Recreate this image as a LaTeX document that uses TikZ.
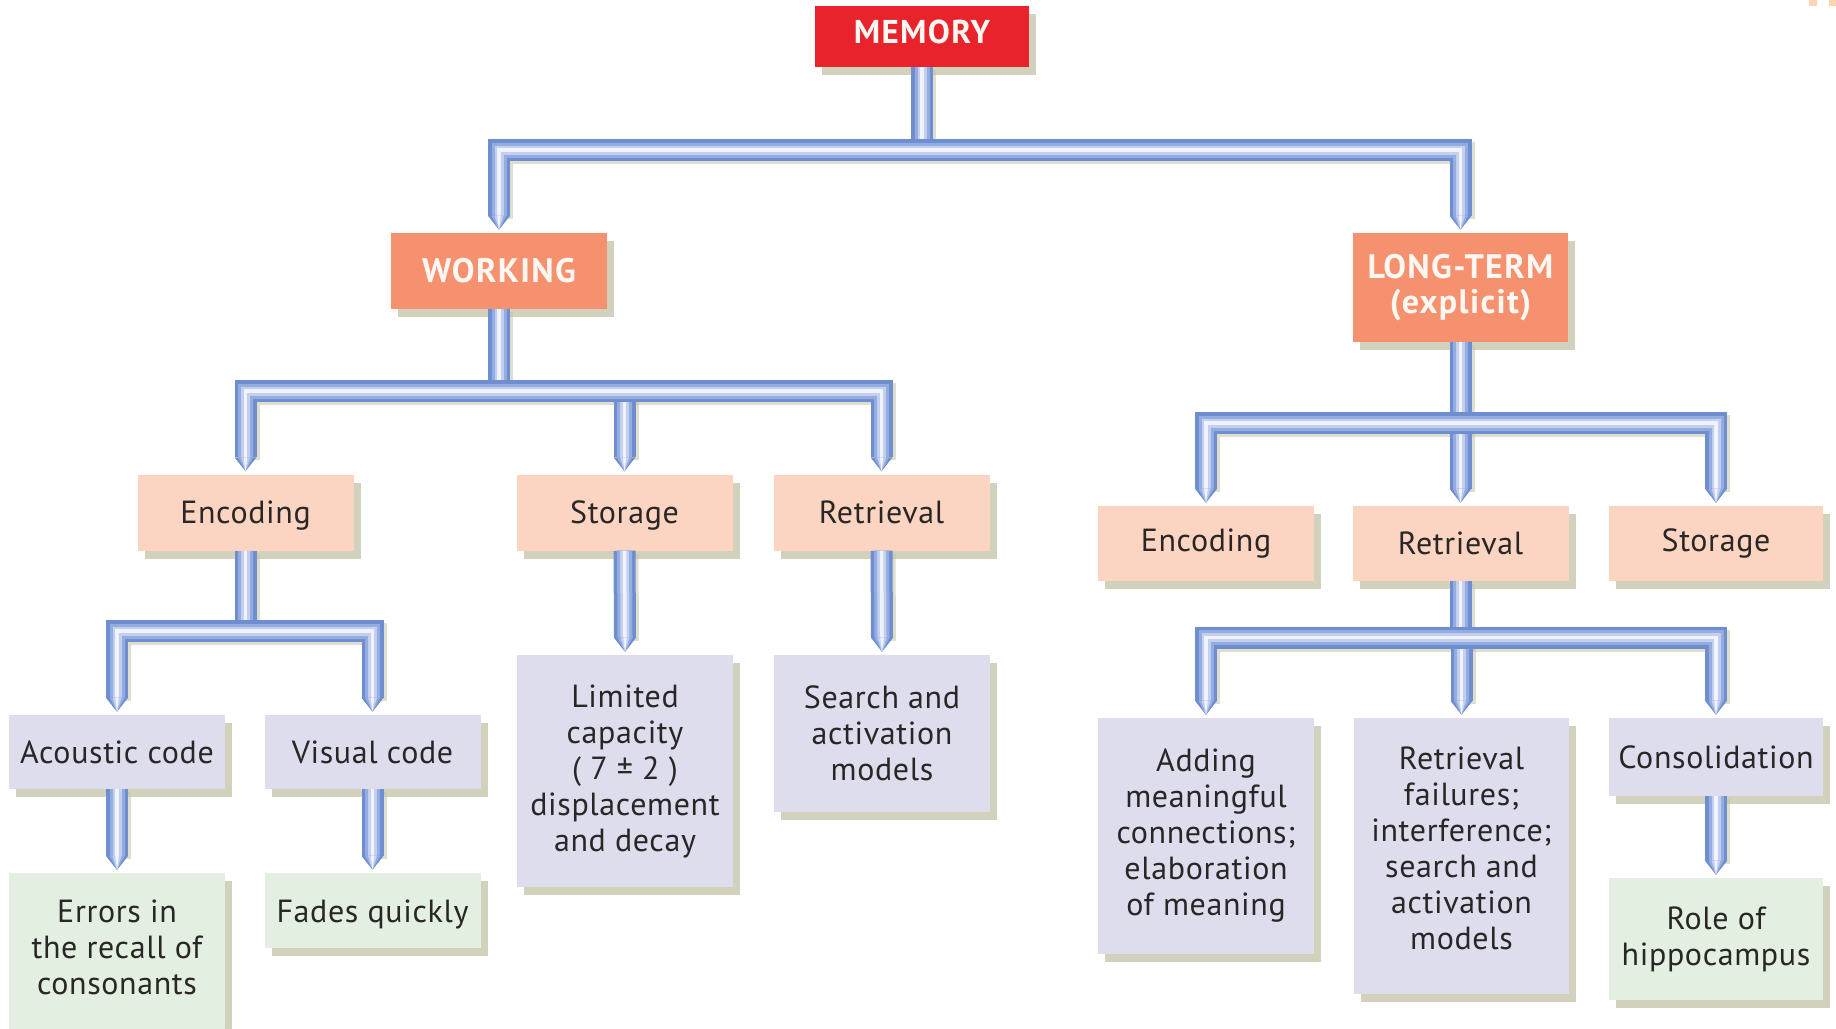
\documentclass[tikz,border=0pt]{standalone}
\usepackage{fontspec}
\setmainfont{PT Sans}
\usetikzlibrary{calc,shadows}
\definecolor{memred}{HTML}{E8232B}
\definecolor{salmon}{HTML}{F5916F}
\definecolor{peach}{HTML}{FBD5C1}
\definecolor{lav}{HTML}{DDDDEE}
\definecolor{mint}{HTML}{E2EFE1}
\definecolor{txt}{HTML}{2A2626}
\definecolor{headtxt}{HTML}{FFF8F2}
\definecolor{shad}{HTML}{C4C4A6}
\definecolor{pipeA}{HTML}{6F8ECF}
\definecolor{pipeB}{HTML}{95ACE0}
\definecolor{pipeC}{HTML}{C2CFEE}
\definecolor{pipeD}{HTML}{F0F3FB}
\definecolor{corner}{HTML}{F8D7B0}
\newcommand\drawpipes[1]{%
  % vertical stubs first
  \draw[#1] (mem.south) -- (mem.south |- yb1);
  \draw[#1] (work.south) -- (work.south |- yb2);
  \draw[#1] (t-wsto) -- (t-wsto |- yb2);
  \draw[#1] (wenc.south) -- (wenc.south |- yb3);
  \draw[#1] (wsto.south) -- (t-lim);
  \draw[#1] (wret.south) -- (t-sea);
  \draw[#1] (aco.south) -- (t-err);
  \draw[#1] (vis.south) -- (t-fad);
  \draw[#1] (lt.south) -- (lt.south |- yb4);
  \draw[#1] (t-lret) -- (t-lret |- yb4);
  \draw[#1] (lret.south) -- (lret.south |- yb5);
  \draw[#1] (t-fail) -- (t-fail |- yb5);
  \draw[#1] (con.south) -- (t-role);
  % bars
  \draw[#1] (t-work) |- (mem.south |- yb1) -| (t-lt);
  \draw[#1] (t-wenc) |- (work.south |- yb2) -| (t-wret);
  \draw[#1] (t-aco) |- (wenc.south |- yb3) -| (t-vis);
  \draw[#1] (t-lenc) |- (lt.south |- yb4) -| (t-lsto);
  \draw[#1] (t-add) |- (lret.south |- yb5) -| (t-con);
}
\newcommand\ptip[1]{%
  \fill[pipeA] ($(#1.north)+(-11,-17)$) -- ($(#1.north)+(11,-17)$) -- ($(#1.north)+(0,-3)$) -- cycle;
  \fill[pipeB] ($(#1.north)+(-7.5,-17)$) -- ($(#1.north)+(7.5,-17)$) -- ($(#1.north)+(0,-3)$) -- cycle;
  \fill[pipeC] ($(#1.north)+(-4.5,-17)$) -- ($(#1.north)+(4.5,-17)$) -- ($(#1.north)+(0,-3)$) -- cycle;
  \fill[pipeD] ($(#1.north)+(-1.75,-17)$) -- ($(#1.north)+(1.75,-17)$) -- ($(#1.north)+(0,-3)$) -- cycle;
}
\begin{document}
\begin{tikzpicture}[x=1pt,y=-1pt,
  box/.style={rectangle, inner sep=0pt, align=center, text=txt,
    font=\fontsize{32}{36}\selectfont\addfontfeatures{LetterSpace=2},
    drop shadow={shadow xshift=7pt, shadow yshift=-8pt, fill=shad, opacity=0.75}},
  headbox/.style={box, fill=salmon, text=headtxt, font=\fontsize{34}{35}\selectfont\bfseries\addfontfeatures{LetterSpace=4}},
  peachbox/.style={box, fill=peach, minimum width=216pt, minimum height=76pt},
  lavbox/.style={box, fill=lav, minimum width=216pt},
  mintbox/.style={box, fill=mint, minimum width=216pt},
  pipe/.style={line width=22pt, draw=pipeA, line join=miter, line cap=butt,
    postaction={draw=pipeB, line width=15pt},
    postaction={draw=pipeC, line width=9pt},
    postaction={draw=pipeD, line width=3.5pt}},
  pipeshadow/.style={line width=22pt, draw=shad, opacity=0.55, line join=miter, line cap=butt,
    transform canvas={xshift=3pt, yshift=-3pt}}
]
\fill[white] (0,0) rectangle (1836,1028);
\useasboundingbox (0,0) rectangle (1836,1028);
\fill[corner] (1809,0) rectangle (1817,6);
\fill[corner] (1829,0) rectangle (1836,6);

% level 0
\node[box, fill=memred, text=headtxt, font=\fontsize{33}{34}\selectfont\bfseries\addfontfeatures{LetterSpace=4},
  minimum width=214pt, minimum height=61pt] (mem) at (922,36.5) {MEMORY\rule[-10pt]{0pt}{10pt}};
% level 1
\node[headbox, minimum width=216pt, minimum height=76pt] (work) at (499,271) {WORKING};
\node[headbox, minimum width=215pt, minimum height=109pt] (lt) at (1460.5,287.5) {LONG-TERM\\(explicit)};
% working level 2
\node[peachbox] (wenc) at (245.5,512.5) {Encoding\rule{0pt}{29pt}};
\node[peachbox] (wsto) at (624.5,512.5) {Storage\rule{0pt}{29pt}};
\node[peachbox] (wret) at (881.5,512.5) {Retrieval};
% working level 3
\node[lavbox, minimum height=74pt] (aco) at (117,752) {Acoustic code};
\node[lavbox, minimum height=74pt] (vis) at (372.5,752) {Visual code};
\node[lavbox, minimum height=232pt] (lim) at (625,771) {Limited\\capacity\\( 7 ± 2 )\\displacement\\and decay};
\node[lavbox, minimum height=157pt] (sea) at (882,733.5) {Search and\\activation\\models};
% working level 4
\node[mintbox, minimum height=180pt, anchor=north] (err) at (117,873) {Errors in\\the recall of\\consonants\rule[-32pt]{0pt}{32pt}};
\node[mintbox, minimum height=75pt] (fad) at (372.5,910.5) {Fades quickly\rule{0pt}{31pt}};
% long-term level 2
\node[peachbox, minimum height=75pt] (lenc) at (1206,543.5) {Encoding};
\node[peachbox, minimum height=75pt] (lret) at (1460.5,543.5) {Retrieval};
\node[peachbox, minimum height=75pt, minimum width=214pt] (lsto) at (1716,543.5) {Storage};
% long-term level 3
\node[lavbox, minimum height=236pt] (add) at (1206,836) {Adding\\meaningful\\connections;\\elaboration\\of meaning};
\node[lavbox, minimum height=276pt, minimum width=215pt] (fail) at (1461.5,856) {Retrieval\\failures;\\interference;\\search and\\activation\\models\rule[-16pt]{0pt}{16pt}};
\node[lavbox, minimum height=78pt, minimum width=214pt] (con) at (1716,757) {Consolidation};
\node[mintbox, minimum height=122pt, minimum width=214pt] (role) at (1716,939) {Role of\\hippocampus};

% bar levels
\coordinate (yb1) at (0,150);
\coordinate (yb2) at (0,391);
\coordinate (yb3) at (0,631);
\coordinate (yb4) at (0,423);
\coordinate (yb5) at (0,637.5);
% tip starting points
\foreach \n in {work,lt,wenc,wsto,wret,aco,vis,err,fad,lim,sea,lenc,lret,lsto,add,fail,con,role}
  \coordinate (t-\n) at ($(\n.north)+(0,-17)$);

\drawpipes{pipeshadow}
\drawpipes{pipe}
\foreach \n in {work,lt,wenc,wsto,wret,aco,vis,err,fad,lim,sea,lenc,lret,lsto,add,fail,con,role}
  \ptip{\n};
\end{tikzpicture}
\end{document}
